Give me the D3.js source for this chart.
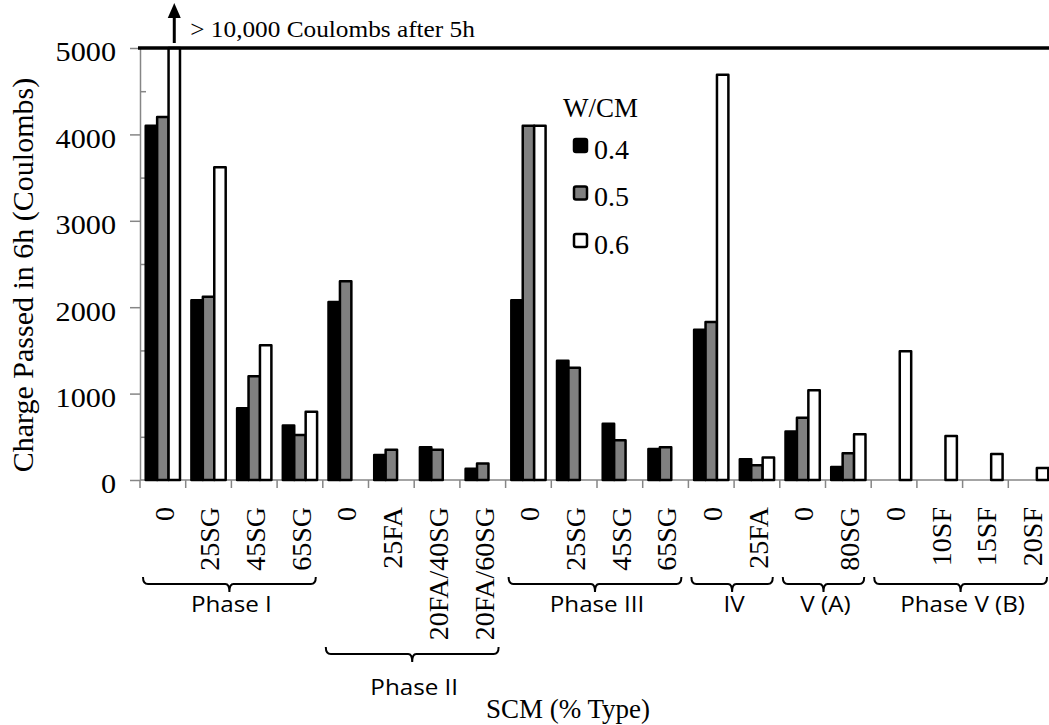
<!DOCTYPE html>
<html>
<head>
<meta charset="utf-8">
<script src="https://cdn.jsdelivr.net/npm/d3@7"></script>
<style>
  body { margin: 0; background: #fff; }
  svg { display: block; }
  .serif { font-family: "Liberation Serif", "Times New Roman", serif; fill: #000; }
  .sans { font-family: "Open Sans", Lato, sans-serif; fill: #000; }
  .axis path, .axis line { stroke: #868686; stroke-width: 1.5px; }
</style>
</head>
<body>
<svg></svg>
<script>
var width = 1049;
var height = 725;

// categories (SCM % type) along the x axis
var categories = ["0", "25SG", "45SG", "65SG", "0", "25FA", "20FA/40SG", "20FA/60SG",
                  "0", "25SG", "45SG", "65SG", "0", "25FA", "0", "80SG",
                  "0", "10SF", "15SF", "20SF"];

// charge passed in 6h for each w/cm ratio (null = not tested)
var w04 = [4100, 2080, 830, 630, 2060, 290, 380, 130, 2080, 1380, 650, 360, 1740, 240, 560, 150, null, null, null, null];
var w05 = [4200, 2120, 1200, 520, 2300, 350, 350, 190, 4100, 1300, 460, 380, 1830, 170, 720, 310, null, null, null, null];
var w06 = [10000, 3620, 1560, 790, null, null, null, null, 4100, null, null, null, 4690, 260, 1040, 530, 1490, 510, 300, 140];

var series = ["0.4", "0.5", "0.6"];
var seriesColors = ["#000000", "#808080", "#ffffff"];

// phase groups, as first and last category index
var groupNames = ["Phase I", "Phase II", "Phase III", "IV", "V (A)", "Phase V (B)"];
var groupStart = [0, 4, 8, 12, 14, 16];
var groupEnd = [3, 7, 11, 13, 15, 19];
var groupRow = [0, 1, 0, 0, 0, 0];

var yTicks = [0, 1000, 2000, 3000, 4000, 5000];
var yMinorTicks = [500, 1500, 2500, 3500, 4500];

var plotLeft = 140, plotRight = 1054, plotTop = 48, plotBottom = 480;

var svg = d3.select("svg")
    .attr("width", width)
    .attr("height", height);

var x = d3.scaleBand()
    .domain(d3.range(categories.length))
    .range([plotLeft, plotRight])
    .padding(0);

var xs = d3.scaleBand()
    .domain(series)
    .range([0, x.bandwidth()])
    .paddingInner(0)
    .paddingOuter(0.5);

var y = d3.scaleLinear()
    .domain([0, 5000])
    .range([plotBottom, plotTop]);

// y axis: major ticks outside, minor ticks inside
var yAxis = svg.append("g")
    .attr("class", "axis")
    .attr("transform", "translate(" + plotLeft + ",0)")
    .call(d3.axisLeft(y).tickValues(yTicks).tickFormat(d3.format("d")).tickSizeInner(10).tickSizeOuter(0));

yAxis.attr("font-family", null).attr("font-size", null);
yAxis.selectAll("text")
    .attr("class", "serif")
    .attr("x", 0)
    .attr("dy", "0.48em")
    .attr("transform", "translate(-24,0) scale(1.12,1)")
    .style("font-size", "27px");

svg.append("g")
    .attr("class", "axis")
    .attr("transform", "translate(" + plotLeft + ",0)")
    .call(d3.axisRight(y).tickValues(yMinorTicks).tickSize(6).tickFormat(""))
    .select(".domain").remove();

// x axis line and category boundary ticks
var xAxis = svg.append("g").attr("class", "axis");
xAxis.append("line")
    .attr("x1", plotLeft).attr("x2", plotRight)
    .attr("y1", plotBottom).attr("y2", plotBottom);
xAxis.selectAll(".xtick")
    .data(d3.range(categories.length))
  .enter().append("line")
    .attr("class", "xtick")
    .attr("x1", function(d) { return x(d); })
    .attr("x2", function(d) { return x(d); })
    .attr("y1", plotBottom)
    .attr("y2", plotBottom + 8);

// bars
var rows = [];
categories.forEach(function(c, i) {
    [w04, w05, w06].forEach(function(arr, j) {
        if (arr[i] != null)
            rows.push({ cat: i, s: series[j], color: seriesColors[j], value: arr[i] });
    });
});

svg.append("g").selectAll("rect")
    .data(rows)
  .enter().append("rect")
    .attr("x", function(d) { return x(d.cat) + xs(d.s); })
    .attr("y", function(d) { return y(Math.min(d.value, 5000)); })
    .attr("width", xs.bandwidth())
    .attr("height", function(d) { return plotBottom - y(Math.min(d.value, 5000)); })
    .attr("fill", function(d) { return d.color; })
    .attr("stroke", "#000")
    .attr("stroke-width", 2.5)
    .attr("stroke-linejoin", "round");

// heavy line at the 5000 limit
svg.append("line")
    .attr("x1", plotLeft - 2).attr("x2", width)
    .attr("y1", y(5000)).attr("y2", y(5000))
    .attr("stroke", "#000")
    .attr("stroke-width", 3.5);

// arrow over the off-scale bar
var off = rows.filter(function(d) { return d.value > 5000; })[0];
var ax = x(off.cat) + xs(off.s) + xs.bandwidth() / 2;
svg.append("line")
    .attr("x1", ax).attr("x2", ax)
    .attr("y1", y(5000) - 5).attr("y2", 16)
    .attr("stroke", "#000")
    .attr("stroke-width", 3);
svg.append("path")
    .attr("d", "M" + (ax - 6.5) + ",18 L" + ax + ",3 L" + (ax + 6.5) + ",18 Z")
    .attr("fill", "#000");
svg.append("text")
    .attr("class", "serif")
    .attr("transform", "translate(" + (ax + 16) + ",37) scale(1.1,1)")
    .style("font-size", "23px")
    .text("> 10,000 Coulombs after 5h");

// category labels, rotated
svg.append("g").selectAll("text")
    .data(categories)
  .enter().append("text")
    .attr("class", "serif")
    .attr("transform", function(d, i) { return "translate(" + (x(i) + x.bandwidth() / 2 + 1) + ",507) rotate(-90)"; })
    .attr("text-anchor", "end")
    .attr("dy", "0.35em")
    .style("font-size", "28px")
    .text(function(d) { return d; });

// braces with phase names
var braceTop = [577, 647];
var labelBase = [612, 695];
groupNames.forEach(function(name, g) {
    var x1 = x(groupStart[g]) + 3;
    var x2 = x(groupEnd[g]) + x.bandwidth() - 7;
    var xm = (x1 + x2) / 2;
    var t = braceTop[groupRow[g]];
    var b = t + 7;
    var p = d3.path();
    p.moveTo(x1, t);
    p.quadraticCurveTo(x1, b, x1 + 5, b);
    p.lineTo(xm - 4, b);
    p.quadraticCurveTo(xm, b, xm, b + 8);
    p.quadraticCurveTo(xm, b, xm + 4, b);
    p.lineTo(x2 - 5, b);
    p.quadraticCurveTo(x2, b, x2, t);
    svg.append("path")
        .attr("d", p.toString())
        .attr("fill", "none")
        .attr("stroke", "#000")
        .attr("stroke-width", 2);
    svg.append("text")
        .attr("class", "sans")
        .attr("transform", "translate(" + (xm + 2) + "," + labelBase[groupRow[g]] + ") scale(1.1,1)")
        .attr("text-anchor", "middle")
        .style("font-size", "22px")
        .text(name);
});

// axis titles
svg.append("text")
    .attr("class", "serif")
    .attr("transform", "translate(33,275) rotate(-90)")
    .attr("text-anchor", "middle")
    .style("font-size", "30px")
    .text("Charge Passed in 6h (Coulombs)");

svg.append("text")
    .attr("class", "serif")
    .attr("x", 568)
    .attr("y", 718)
    .attr("text-anchor", "middle")
    .style("font-size", "27px")
    .text("SCM (% Type)");

// legend
var legend = svg.append("g").attr("transform", "translate(563,0)");
legend.append("text")
    .attr("class", "serif")
    .attr("x", 0)
    .attr("y", 117)
    .style("font-size", "27px")
    .text("W/CM");

var item = legend.selectAll(".item")
    .data(series)
  .enter().append("g")
    .attr("class", "item")
    .attr("transform", function(d, i) { return "translate(0," + (145.5 + i * 47.5) + ")"; });

item.append("rect")
    .attr("x", 11).attr("y", -6.5)
    .attr("width", 13).attr("height", 13)
    .attr("rx", 2)
    .attr("fill", function(d, i) { return seriesColors[i]; })
    .attr("stroke", "#000")
    .attr("stroke-width", 2.5);

item.append("text")
    .attr("class", "serif")
    .attr("x", 31)
    .attr("y", 13)
    .style("font-size", "28px")
    .text(function(d) { return d; });
</script>
</body>
</html>
